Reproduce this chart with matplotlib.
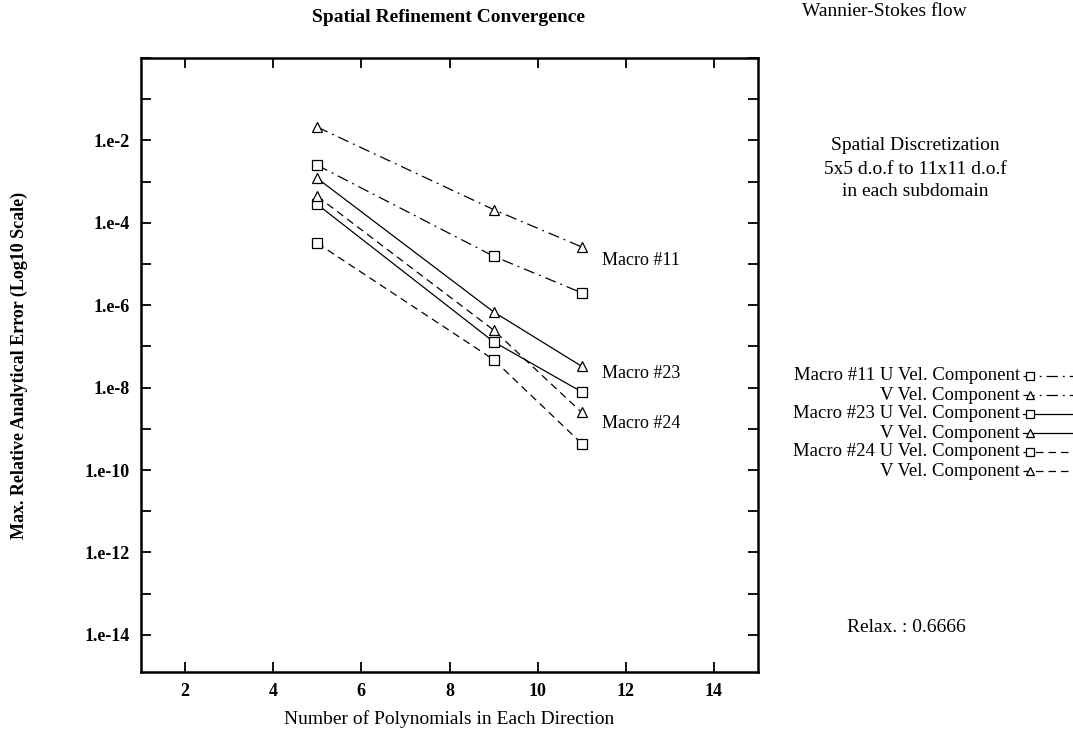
import matplotlib.pyplot as plt
from matplotlib.lines import Line2D

plt.rcParams['font.family'] = ['Liberation Serif', 'DejaVu Serif']

# polynomial orders used in each subdomain
n_poly = [5, 9, 11]

# max relative analytical error per macro / velocity component
m11_u = [2.5e-3, 1.55e-5, 2.0e-6]
m11_v = [2.1e-2, 2.1e-4, 2.6e-5]
m23_u = [2.8e-4, 1.3e-7, 7.9e-9]
m23_v = [1.2e-3, 6.9e-7, 3.3e-8]
m24_u = [3.2e-5, 4.8e-8, 4.4e-10]
m24_v = [4.4e-4, 2.5e-7, 2.5e-9]

series_labels = ['Macro #11 U Vel. Component', 'V Vel. Component',
                 'Macro #23 U Vel. Component', 'V Vel. Component',
                 'Macro #24 U Vel. Component', 'V Vel. Component']
macro_names = ['Macro #11', 'Macro #23', 'Macro #24']

x_ticks = [2, 4, 6, 8, 10, 12, 14]
y_exps = list(range(-14, 1))

dashdot = (0, (9, 4, 1.5, 4))
dashed = (0, (6, 4))
styles = [(m11_u, 's', dashdot), (m11_v, '^', dashdot),
          (m23_u, 's', '-'), (m23_v, '^', '-'),
          (m24_u, 's', dashed), (m24_v, '^', dashed)]

fig = plt.figure(figsize=(10.73, 7.34), dpi=100)
ax = fig.add_axes([141 / 1073, 1 - 672 / 734, 617 / 1073, 614 / 734])

for vals, mk, ls in styles:
    ax.plot(n_poly, vals, color='black', linestyle=ls, linewidth=0.9,
            marker=mk, markersize=6.5, markerfacecolor='white',
            markeredgecolor='black', markeredgewidth=0.9)

ax.set_yscale('log')
ax.set_xlim(1, 15)
ax.set_ylim(10 ** -14.9, 10 ** -0.04)

ax.set_xticks(x_ticks)
ax.set_xticklabels([str(t) for t in x_ticks], fontweight='bold', fontsize=13)
ax.set_yticks([10.0 ** e for e in y_exps])
ax.set_yticklabels(['1.e%d' % e if e % 2 == 0 and e < 0 else '' for e in y_exps],
                   fontweight='bold', fontsize=13)
ax.minorticks_off()
ax.tick_params(axis='both', direction='in', length=7, width=1.3,
               top=True, right=True, pad=8)
for sp in ax.spines.values():
    sp.set_linewidth(1.8)

# curve labels next to the last points
label_pos = [1.2e-5, 2.2e-8, 1.35e-9]
for name, yv in zip(macro_names, label_pos):
    ax.text(11.47, yv, name, fontsize=13, va='center', ha='left')

ax.set_xlabel('Number of Polynomials in Each Direction', fontsize=14, labelpad=7)
ax.set_ylabel('Max. Relative Analytical Error (Log10 Scale)', fontsize=13,
              fontweight='bold', labelpad=41)

fig.text(449 / 1073, 1 - 18 / 734, 'Spatial Refinement Convergence',
         fontsize=14, fontweight='bold', ha='center', va='center')
fig.text(802 / 1073, 1 - 12 / 734, 'Wannier-Stokes flow',
         fontsize=14, ha='left', va='center')
for i, line in enumerate(['Spatial Discretization', '5x5 d.o.f to 11x11 d.o.f',
                          'in each subdomain']):
    fig.text(915 / 1073, 1 - (146 + 23 * i) / 734, line,
             fontsize=14, ha='center', va='center')
fig.text(906 / 1073, 1 - 627 / 734, 'Relax. : 0.6666',
         fontsize=14, ha='center', va='center')

# key on the right: text right-aligned, sample line with marker after it
for i, (lab, (vals, mk, ls)) in enumerate(zip(series_labels, styles)):
    yy = 1 - (376 + 19 * i) / 734
    fig.text(1020 / 1073, yy, lab, fontsize=13.5, ha='right', va='center')
    fig.add_artist(Line2D([1023 / 1073, 1030 / 1073, 1078 / 1073], [yy, yy, yy],
                          transform=fig.transFigure, color='black',
                          linestyle=ls, linewidth=0.9, marker=mk, markevery=[1],
                          markersize=6, markerfacecolor='white',
                          markeredgecolor='black', markeredgewidth=0.9))

fig.savefig('out.png', dpi=100)
